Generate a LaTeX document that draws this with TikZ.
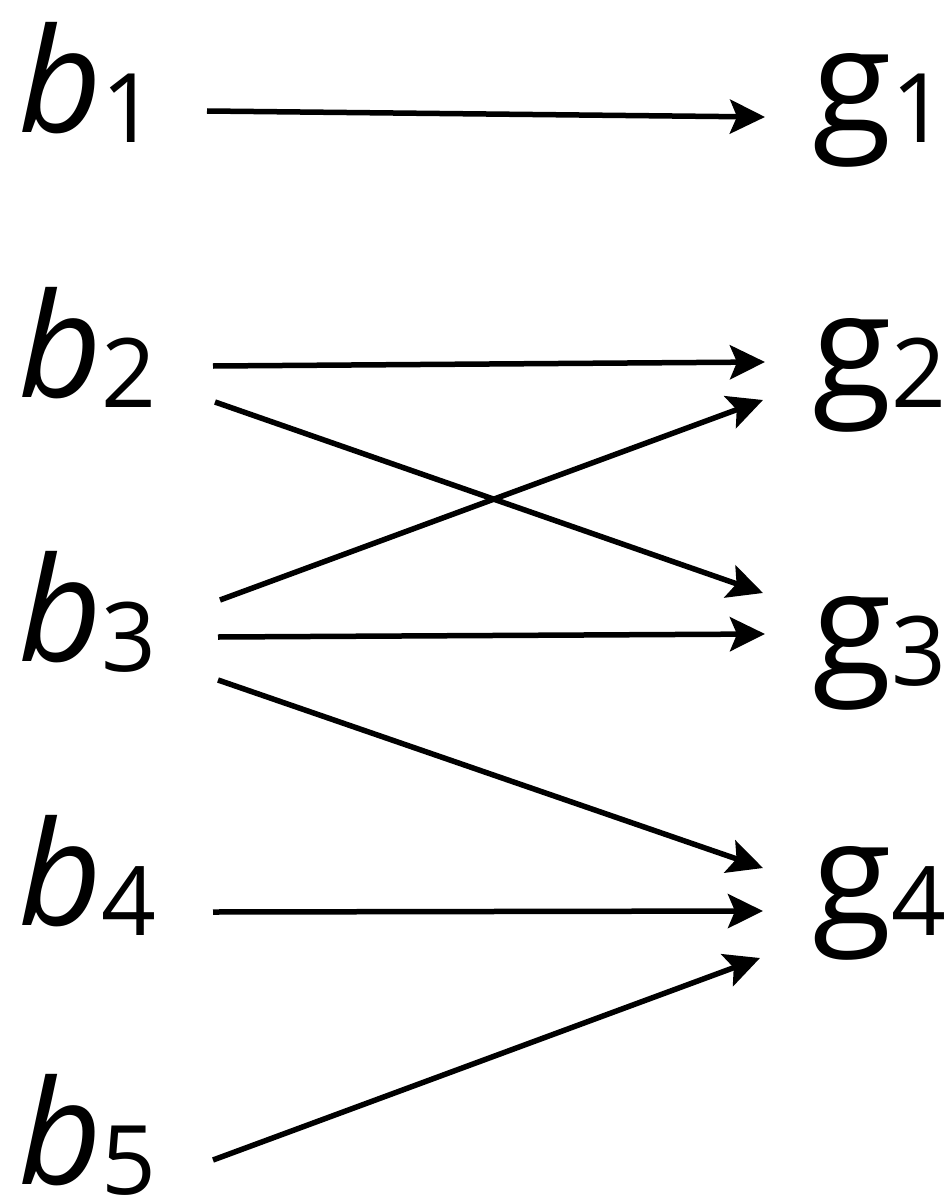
\documentclass[tikz,border=0pt]{standalone}
\usepackage{fontspec}
\setmainfont{Open Sans}
\usepackage{tikz}
\usetikzlibrary{arrows.meta,positioning,calc}

\newcommand{\idx}[1]{{\fontsize{96}{96}\selectfont\raisebox{-10pt}{#1}}}
\tikzset{
  lbl/.style={inner sep=0pt, anchor=base west, font=\fontsize{145}{150}\selectfont},
  edge/.style={line width=5.5pt, -{Stealth[length=35pt,width=34pt,inset=7pt]}}
}

\begin{document}
\begin{tikzpicture}[x=1pt,y=-1pt]
    \useasboundingbox (0,0) rectangle (952,1201);
    % Left column
    \node[lbl] (b1) at (18,133) {\itshape b\/\idx{\upshape 1}};
    \node[lbl] (b2) at (18,397) {\itshape b\/\idx{\upshape 2}};
    \node[lbl] (b3) at (18,661) {\itshape b\/\idx{\upshape 3}};
    \node[lbl] (b4) at (18,925) {\itshape b\/\idx{\upshape 4}};
    \node[lbl] (b5) at (18,1184) {\itshape b\/\idx{\upshape 5}};
    % Right column
    \node[lbl] (g1) at (812,133) {g\idx{1}};
    \node[lbl] (g2) at (812,397) {g\idx{2}};
    \node[lbl] (g3) at (812,675) {g\idx{3}};
    \node[lbl] (g4) at (812,925) {g\idx{4}};
    % Arrows
    \draw[edge] ($(b1.base west)+(189,-22)$) -- ($(g1.base west)+(-47,-16)$);
    \draw[edge] ($(b2.base west)+(195,-31)$) -- ($(g2.base west)+(-47,-35)$);
    \draw[edge] ($(b2.base west)+(197,5)$) -- ($(g3.base west)+(-49,-82)$);
    \draw[edge] ($(b3.base west)+(202,-61)$) -- ($(g2.base west)+(-49,3)$);
    \draw[edge] ($(b3.base west)+(200,-24)$) -- ($(g3.base west)+(-47,-41)$);
    \draw[edge] ($(b3.base west)+(200,19)$) -- ($(g4.base west)+(-49,-57)$);
    \draw[edge] ($(b4.base west)+(195,-13)$) -- ($(g4.base west)+(-49,-14)$);
    \draw[edge] ($(b5.base west)+(195,-24)$) -- ($(g4.base west)+(-52,33)$);
\end{tikzpicture}
\end{document}
